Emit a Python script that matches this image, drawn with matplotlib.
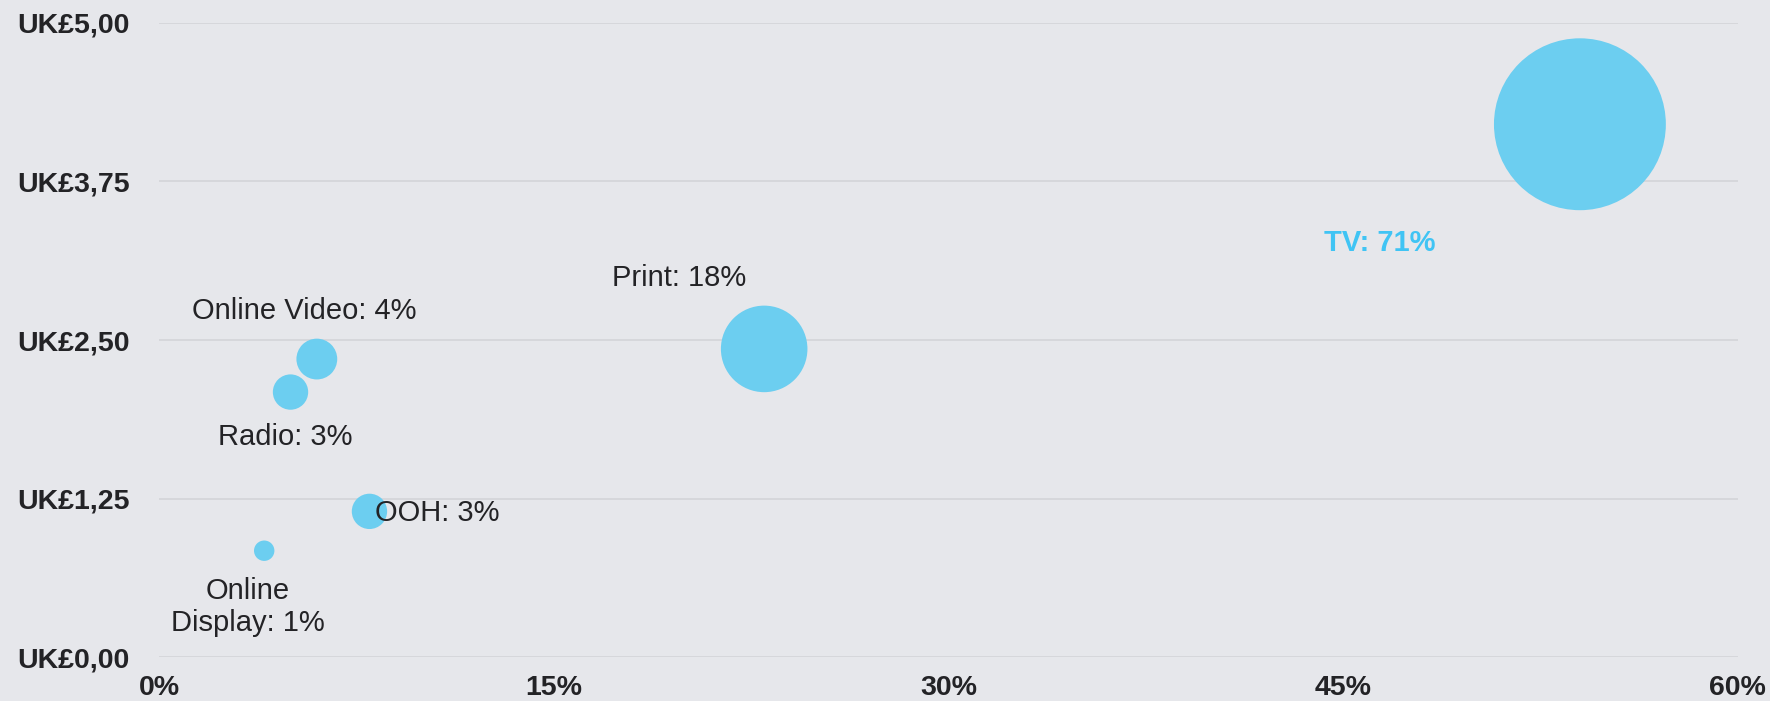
import matplotlib.pyplot as plt
import numpy as np
from matplotlib.ticker import FuncFormatter

plt.rcParams['font.family'] = ['Liberation Sans', 'DejaVu Sans']

# media channels: share of spend (x, %), cost (y, UK£) and share label (bubble size, %)
channels = ['TV', 'Print', 'Online Video', 'Radio', 'OOH', 'Online\nDisplay']
spend_pct = np.array([54, 23, 6, 5, 8, 4])
cost_gbp = np.array([4.20, 2.43, 2.35, 2.09, 1.15, 0.84])
share_pct = np.array([71, 18, 4, 3, 3, 1])

x_ticks = [0, 15, 30, 45, 60]
y_ticks = [0, 1.25, 2.5, 3.75, 5]

# label offsets (points, to the baseline of the last line) and alignment per bubble
label_dx = [-144, -61, -9, -4, 4, -12]
label_dy = [-91, 45, 29, -38, -7, -58]
label_ha = ['center', 'center', 'center', 'center', 'left', 'center']

bg = '#E6E7EB'
bubble_col = '#6CCEF0'
text_col = '#232326'

dpi = 100
fig = plt.figure(figsize=(17.7, 7.01), dpi=dpi, facecolor=bg)
ax = fig.add_axes([0.0898, 0.0623, 0.892, 0.9053])
ax.set_facecolor(bg)

# bubble area proportional to share
r_px = 10.2 * np.sqrt(share_pct)
sizes = (2 * r_px * 72 / dpi) ** 2
ax.scatter(spend_pct, cost_gbp, s=sizes, color=bubble_col, edgecolors='none',
           zorder=3, clip_on=False)

for i, name in enumerate(channels):
    is_top = i == 0
    ax.annotate(f'{name}: {share_pct[i]}%', xy=(spend_pct[i], cost_gbp[i]),
                xytext=(label_dx[i], label_dy[i]), textcoords='offset points',
                ha=label_ha[i], va='baseline', fontsize=21,
                fontweight='bold' if is_top else 'normal',
                color='#40C4F4' if is_top else text_col,
                linespacing=1.2, multialignment='center', zorder=4)

ax.set_xlim(0, 60)
ax.set_ylim(0, 5)
ax.set_xticks(x_ticks)
ax.set_yticks(y_ticks)
ax.xaxis.set_major_formatter(FuncFormatter(lambda v, p: f'{v:.0f}%'))
ax.yaxis.set_major_formatter(FuncFormatter(lambda v, p: f'UK£{v:.2f}'.replace('.', ',')))
ax.tick_params(axis='both', length=0, labelsize=20.5, labelcolor=text_col)
ax.tick_params(axis='y', pad=21)
ax.tick_params(axis='x', pad=12.5)
for lab in ax.get_xticklabels() + ax.get_yticklabels():
    lab.set_fontweight('bold')

ax.grid(axis='y', color='#D6D7DB', linewidth=1.4, zorder=0)
ax.grid(axis='x', visible=False)
ax.set_axisbelow(True)
for s in ax.spines.values():
    s.set_visible(False)

fig.savefig('out.png', dpi=dpi, facecolor=bg)
